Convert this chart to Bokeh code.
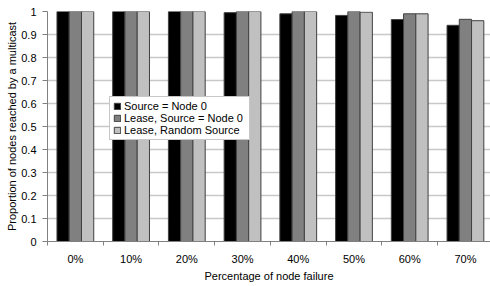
from bokeh.plotting import figure
from bokeh.models import Range1d, FixedTicker, ColumnDataSource, Legend
from bokeh.embed import file_html
from bokeh.resources import INLINE

categories = ["0%", "10%", "20%", "30%", "40%", "50%", "60%", "70%"]
source_node0 = [1.0, 1.0, 1.0, 0.995, 0.99, 0.983, 0.965, 0.94]
lease_node0 = [1.0, 1.0, 1.0, 1.0, 1.0, 1.0, 0.99, 0.966]
lease_random = [1.0, 1.0, 1.0, 1.0, 1.0, 0.997, 0.99, 0.96]
series_names = ["Source = Node 0", "Lease, Source = Node 0", "Lease, Random Source"]
series_colors = ["#000000", "#808080", "#c0c0c0"]
y_ticks = [0, 0.1, 0.2, 0.3, 0.4, 0.5, 0.6, 0.7, 0.8, 0.9, 1]
y_tick_labels = ["0", "0.1", "0.2", "0.3", "0.4", "0.5", "0.6", "0.7", "0.8", "0.9", "1"]

FONT = "Liberation Sans"
n = len(categories)
centers = [i + 0.5 for i in range(n)]
bounds = [float(i) for i in range(n + 1)]
bar_w = 0.22
offsets = [-bar_w, 0.0, bar_w]

p = figure(width=490, height=286, output_backend="svg", toolbar_location=None,
           x_range=Range1d(0, 7.95), y_range=Range1d(0, 1),
           min_border_left=47, min_border_right=0, min_border_top=11, min_border_bottom=45)
p.outline_line_color = None
p.background_fill_color = "white"
p.border_fill_color = "white"

renderers = []
for vals, name, col, off in zip([source_node0, lease_node0, lease_random], series_names, series_colors, offsets):
    src = ColumnDataSource(dict(x=[c + off for c in centers], top=vals))
    r = p.vbar(x="x", top="top", width=bar_w, bottom=0, source=src,
               fill_color=col, line_color="#404040", line_width=1)
    renderers.append((name, [r]))

# x axis
xa = p.xaxis[0]
xa.ticker = FixedTicker(ticks=centers, minor_ticks=bounds)
xa.major_label_overrides = {c: lab for c, lab in zip(centers, categories)}
xa.major_tick_line_color = None
xa.major_tick_out = 0
xa.major_tick_in = 0
xa.minor_tick_line_color = "#808080"
xa.minor_tick_out = 4
xa.minor_tick_in = 0
xa.axis_line_color = "#808080"
xa.major_label_standoff = 7
xa.major_label_text_font = FONT
xa.major_label_text_font_size = "11px"
xa.major_label_text_color = "#000000"
xa.axis_label = "Percentage of node failure"
xa.axis_label_text_font = FONT
xa.axis_label_text_font_size = "11px"
xa.axis_label_text_font_style = "normal"
xa.axis_label_text_color = "#000000"
xa.axis_label_standoff = 2

# y axis
ya = p.yaxis[0]
ya.ticker = FixedTicker(ticks=y_ticks, minor_ticks=[])
ya.major_label_overrides = {t: lab for t, lab in zip(y_ticks, y_tick_labels)}
ya.major_tick_line_color = "#808080"
ya.major_tick_out = 5
ya.major_tick_in = 0
ya.minor_tick_line_color = None
ya.axis_line_color = "#808080"
ya.major_label_standoff = 6
ya.major_label_text_font = FONT
ya.major_label_text_font_size = "11px"
ya.major_label_text_color = "#000000"
ya.axis_label = "Proportion of nodes reached by a multicast"
ya.axis_label_text_font = FONT
ya.axis_label_text_font_size = "11px"
ya.axis_label_text_font_style = "normal"
ya.axis_label_text_color = "#000000"
ya.axis_label_standoff = 0

p.xgrid.grid_line_color = None
p.ygrid.ticker = FixedTicker(ticks=y_ticks)
p.ygrid.grid_line_color = "#c8c8c8"
p.ygrid.grid_line_width = 1.5

legend = Legend(items=renderers, location=(62, 101),
                label_text_font=FONT, label_text_font_size="11px",
                label_text_color="#000000",
                glyph_width=8, glyph_height=8, label_height=10, label_standoff=3,
                label_width=122,
                spacing=-1, padding=3, margin=0,
                border_line_color="#909090", border_line_width=1,
                background_fill_color="white", background_fill_alpha=1.0)
p.add_layout(legend, "center")

open("out.html", "w").write(file_html(p, INLINE))
